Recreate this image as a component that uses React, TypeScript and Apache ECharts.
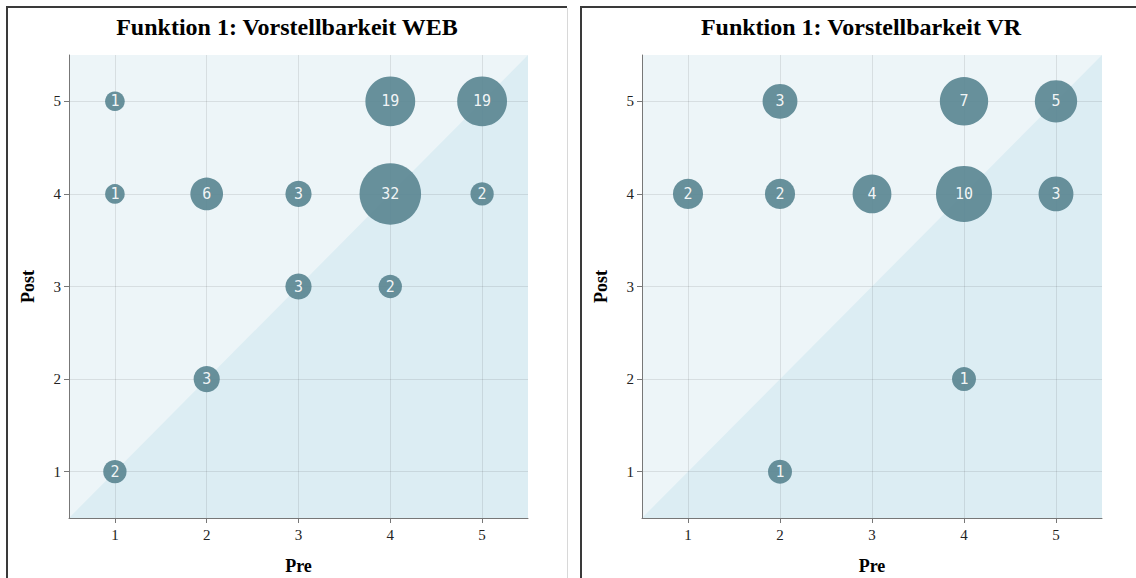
import React, { useEffect, useRef } from "react";
import * as echarts from "echarts";

const panelTitles = ["Funktion 1: Vorstellbarkeit WEB", "Funktion 1: Vorstellbarkeit VR"];
const xAxisName = "Pre";
const yAxisName = "Post";
const tickValues = [1, 2, 3, 4, 5];
const axisRange = [0.5, 5.5];

const webPre = [1, 4, 5, 1, 2, 3, 4, 5, 3, 4, 2, 1];
const webPost = [5, 5, 5, 4, 4, 4, 4, 4, 3, 3, 2, 1];
const webCount = [1, 19, 19, 1, 6, 3, 32, 2, 3, 2, 3, 2];

const vrPre = [2, 4, 5, 1, 2, 3, 4, 5, 4, 2];
const vrPost = [5, 5, 5, 4, 4, 4, 4, 4, 2, 1];
const vrCount = [3, 7, 5, 2, 2, 4, 10, 3, 1, 1];

const SERIF = '"Liberation Serif", "Times New Roman", serif';
const BUBBLE = "#5b8793";

function zip(a: number[], b: number[], c: number[]) {
  return a.map((v, i) => [v, b[i], c[i]]);
}

export default function App() {
  const ref = useRef<HTMLDivElement>(null);
  useEffect(() => {
    if (!ref.current) return;
    const chart = echarts.init(ref.current, null, { renderer: "svg" });
    const grids = [
      { left: 69, top: 55, width: 459, height: 463 },
      { left: 642, top: 55, width: 460, height: 463 },
    ];
    const sizeParams = [
      { a: 5.3, b: 4.5 },
      { a: 4.6, b: 7.4 },
    ];
    const datasets = [zip(webPre, webPost, webCount), zip(vrPre, vrPost, vrCount)];

    const xAxes = grids.map((_, i) => ({
      type: "value",
      gridIndex: i,
      min: axisRange[0],
      max: axisRange[1],
      z: 3,
      name: xAxisName,
      nameLocation: "middle",
      nameGap: 39,
      nameTextStyle: { fontFamily: SERIF, fontWeight: "bold", fontSize: 18, color: "#000" },
      axisLine: { show: true, lineStyle: { color: "#777", width: 1 } },
      axisTick: { show: true, length: 5, lineStyle: { color: "#777" }, customValues: tickValues },
      axisLabel: { fontFamily: SERIF, fontSize: 15, color: "#222", margin: 9, customValues: tickValues },
      splitLine: { show: true, lineStyle: { color: "rgba(0,0,0,0.09)", width: 1 } },
    }));
    const yAxes = grids.map((_, i) => ({
      type: "value",
      gridIndex: i,
      min: axisRange[0],
      max: axisRange[1],
      z: 3,
      name: yAxisName,
      nameLocation: "middle",
      nameGap: 32,
      nameTextStyle: { fontFamily: SERIF, fontWeight: "bold", fontSize: 18, color: "#000" },
      axisLine: { show: true, lineStyle: { color: "#777", width: 1 } },
      axisTick: { show: true, length: 5, lineStyle: { color: "#777" }, customValues: tickValues },
      axisLabel: { fontFamily: SERIF, fontSize: 15, color: "#222", margin: 8, customValues: tickValues },
      splitLine: { show: true, lineStyle: { color: "rgba(0,0,0,0.09)", width: 1 } },
    }));

    const series: any[] = [];
    grids.forEach((_, i) => {
      series.push({
        type: "line",
        xAxisIndex: i,
        yAxisIndex: i,
        data: [
          [axisRange[0], axisRange[0]],
          [axisRange[1], axisRange[1]],
        ],
        symbol: "none",
        silent: true,
        z: 1,
        lineStyle: { width: 0, opacity: 0 },
        areaStyle: { color: "#dcedf3", opacity: 1, origin: "start" },
      });
      const p = sizeParams[i];
      series.push({
        type: "scatter",
        xAxisIndex: i,
        yAxisIndex: i,
        data: datasets[i],
        z: 5,
        symbolSize: (v: number[]) => 2 * (p.a + p.b * Math.sqrt(v[2])),
        itemStyle: { color: BUBBLE, opacity: 0.92 },
        label: {
          show: true,
          position: "inside",
          formatter: (prm: any) => String(prm.value[2]),
          color: "#fff",
          fontFamily: '"DejaVu Sans Mono", monospace',
          fontSize: 15,
        },
      });
    });

    const frame = (x0: number, x1: number, rightLine: boolean) => {
      const els: any[] = [
        { type: "line", shape: { x1: x0, y1: 7, x2: x0, y2: 578 }, style: { stroke: "#3a3a3a", lineWidth: 2 } },
        { type: "line", shape: { x1: x0 - 1, y1: 7, x2: x1, y2: 7 }, style: { stroke: "#3a3a3a", lineWidth: 2 } },
      ];
      if (rightLine) {
        els.push({ type: "line", shape: { x1: x1 + 0.5, y1: 8, x2: x1 + 0.5, y2: 578 }, style: { stroke: "#d8d8d8", lineWidth: 1 } });
      }
      return els;
    };

    chart.setOption({
      animation: false,
      backgroundColor: "#fff",
      grid: grids.map((g) => ({
        ...g,
        show: true,
        backgroundColor: "#edf5f8",
        borderWidth: 0,
        containLabel: false,
        outerBoundsMode: "none",
      })),
      xAxis: xAxes,
      yAxis: yAxes,
      series,
      graphic: [
        ...frame(7, 567, true),
        ...frame(581, 1136, false),
        {
          type: "text",
          x: 287,
          y: 27,
          style: { text: panelTitles[0], textAlign: "center", textVerticalAlign: "middle", font: `bold 24px ${SERIF}`, fill: "#000" },
        },
        {
          type: "text",
          x: 861,
          y: 27,
          style: { text: panelTitles[1], textAlign: "center", textVerticalAlign: "middle", font: `bold 24px ${SERIF}`, fill: "#000" },
        },
      ],
    });
    return () => chart.dispose();
  }, []);
  return <div ref={ref} style={{ position: "fixed", left: 0, top: 0, width: 1136, height: 578 }} />;
}
